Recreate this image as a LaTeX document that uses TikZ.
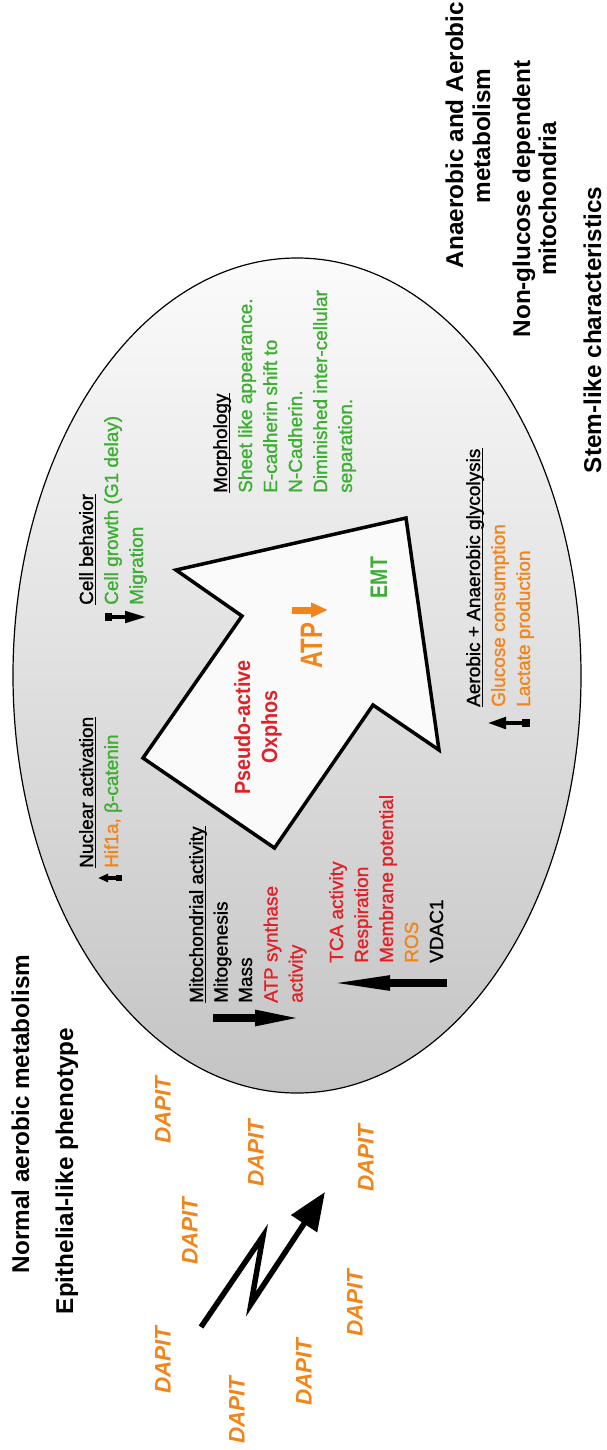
\documentclass[tikz,border=0pt]{standalone}
\usepackage{fontspec}
\usepackage{graphicx}
\setmainfont{Liberation Sans}
\newfontfamily\lblfont[FakeBold=1.2]{Liberation Sans}
\usetikzlibrary{arrows.meta,calc}
\definecolor{tred}{RGB}{226,32,38}
\definecolor{torange}{RGB}{242,133,26}
\definecolor{tgreen}{RGB}{60,175,50}
\definecolor{elltop}{RGB}{251,251,251}
\definecolor{ellbot}{RGB}{196,196,196}
\definecolor{arrfill}{RGB}{250,250,250}
\begin{document}
\begin{tikzpicture}[x=1pt,y=-1pt,
  title/.style={rotate=90, anchor=base, inner sep=0pt, font=\fontsize{24.3}{28}\selectfont\bfseries},
  lbl/.style={rotate=90, anchor=base west, inner sep=0pt, font=\fontsize{19}{23}\lblfont},
  big/.style={rotate=90, anchor=base, inner sep=0pt},
  ul/.style={line width=1.4pt},
  dapit/.style={rotate=90, inner sep=0pt, text=torange, font=\fontsize{22.5}{26}\selectfont\bfseries\itshape},
  mk/.style={line width=#1}
]
\useasboundingbox (0,0) rectangle (606,1450);

% ellipse
\draw[line width=1.2pt, top color=elltop, bottom color=ellbot] (297,675.5) ellipse [x radius=284pt, y radius=417.5pt];

% big arrow
\draw[line width=3.5pt, line join=miter, fill=arrfill] (406,518) -- (439,750) -- (373,705) -- (274.5,848) -- (143,758) -- (242,616) -- (176,570) -- cycle;

% titles
\node[title] (t1) at (463,135) {Anaerobic and Aerobic};
\node[title] (t2) at (490,136) {metabolism};
\node[title] (t3) at (530,199) {Non-glucose dependent};
\node[title] (t4) at (556,199) {mitochondria};
\node[title] (t5) at (601,330) {Stem-like characteristics};
\node[title] (t6) at (29,1114) {Normal aerobic metabolism};
\node[title] (t7) at (73,1171) {Epithelial-like phenotype};

% arrow contents
\node[big, text=tred, font=\fontsize{22}{26}\selectfont\bfseries] (pa) at (250,727.5) {\scalebox{0.9}[1]{Pseudo-active}};
\node[big, text=tred, font=\fontsize{22}{26}\selectfont\bfseries] (ox) at (277,727) {\scalebox{0.9}[1]{Oxphos}};
\node[big, text=torange, font=\fontsize{31}{35}\selectfont\bfseries] (atp) at (322,646) {\scalebox{0.77}[1]{ATP}};
\node[big, text=tgreen, font=\fontsize{24}{28}\selectfont\bfseries] (emt) at (387,577.5) {\scalebox{0.81}[1]{EMT}};
\coordinate (atpA) at (292,610);
\coordinate (atpB) at (328,610);
\draw[torange, mk=7pt, -{Triangle[length=17pt,width=14pt]}] (atpA) -- (atpB);

% nuclear activation
\node[lbl] (nh) at (93,868) {Nuclear activation};
\node[lbl] (n1) at (118,868) {{\color{torange}Hif1a,} {\color{tgreen}β-catenin}};
\draw[ul] ($(nh.base west)+(2.5,0)$) -- ($(nh.base east)+(2.5,0)$);
\coordinate (nA) at (122,878);
\coordinate (nB) at (98,878);
\fill (116,875) rectangle (122,881);
\draw[mk=3.5pt, -{Triangle[length=10pt,width=8pt]}] (nA) -- (nB);

% cell behavior
\node[lbl] (ch) at (93,605) {Cell behavior};
\node[lbl, text=tgreen] (c1) at (118,605) {Cell growth (G1 delay)};
\node[lbl, text=tgreen] (c2) at (143,605) {Migration};
\draw[ul] ($(ch.base west)+(2.5,0)$) -- ($(ch.base east)+(2.5,0)$);
\coordinate (cA) at (105,617);
\coordinate (cB) at (147,617);
\fill (105,613) rectangle (112,621);
\draw[mk=4.5pt, -{Triangle[length=22pt,width=11pt]}] (cA) -- (cB);

% morphology
\node[lbl] (mo) at (227,493) {Morphology};
\draw[ul] ($(mo.base west)+(2.5,0)$) -- ($(mo.base east)+(2.5,0)$);
\node[lbl, text=tgreen] (mo1) at (252,493) {Sheet like appearance.};
\node[lbl, text=tgreen] (mo2) at (277,493) {E-cadherin shift to};
\node[lbl, text=tgreen] (mo3) at (302,493) {N-Cadherin.};
\node[lbl, text=tgreen] (mo4) at (327,493) {Diminished inter-cellular};
\node[lbl, text=tgreen] (mo5) at (352,493) {separation.};

% glycolysis
\node[lbl] (gh) at (480,707) {Aerobic + Anaerobic glycolysis};
\draw[ul] ($(gh.base west)+(2.5,0)$) -- ($(gh.base east)+(2.5,0)$);
\node[lbl, text=torange] (g1) at (505,707) {Glucose consumption};
\node[lbl, text=torange] (g2) at (530,707) {Lactate production};
\coordinate (gA) at (530,723);
\coordinate (gB) at (487,723);
\fill (522,719) rectangle (530,727);
\draw[mk=4.5pt, -{Triangle[length=19pt,width=11pt]}] (gA) -- (gB);

% mitochondrial activity
\node[lbl] (mh) at (203,1003) {Mitochondrial activity};
\draw[ul] ($(mh.base west)+(2.5,0)$) -- ($(mh.base east)+(2.5,0)$);
\node[lbl] (mi1) at (227.5,1003) {Mitogenesis};
\node[lbl] (mi2) at (252,1003) {Mass};
\node[lbl, text=tred] (mi3) at (277.5,1003) {ATP synthase};
\node[lbl, text=tred] (mi4) at (302.5,1003) {activity};
\coordinate (mA) at (213,1018);
\coordinate (mB) at (305,1018);
\draw[mk=8pt, -{Triangle[length=50pt,width=14pt]}] (mA) -- (mB);

\node[lbl, text=tred] (r1) at (343,963) {TCA activity};
\node[lbl, text=tred] (r2) at (368,963) {Respiration};
\node[lbl, text=tred] (r3) at (393,963) {Membrane potential};
\node[lbl, text=torange] (r4) at (418,963) {ROS};
\node[lbl] (r5) at (443,963) {VDAC1};
\coordinate (rA) at (447,983);
\coordinate (rB) at (323,983);
\draw[mk=8pt, -{Triangle[length=67pt,width=13pt]}] (rA) -- (rB);

% DAPIT
\node[dapit] (d1) at (163,1110) {DAPIT};
\node[dapit] (d2) at (256,1153) {DAPIT};
\node[dapit] (d3) at (366,1158) {DAPIT};
\node[dapit] (d4) at (190,1231) {DAPIT};
\node[dapit] (d5) at (355,1303) {DAPIT};
\node[dapit] (d6) at (163,1360) {DAPIT};
\node[dapit] (d7) at (304,1372) {DAPIT};
\node[dapit] (d8) at (237,1410) {DAPIT};

% lightning arrow
\coordinate (z0) at (201,1327);
\coordinate (z1) at (263,1236);
\coordinate (z2) at (251,1304);
\coordinate (z3) at (325,1192);
\draw[mk=5.5pt, line join=miter, miter limit=12, -{Triangle[length=38pt,width=30pt]}] (z0) -- (z1) -- (z2) -- (z3);
\end{tikzpicture}
\end{document}
